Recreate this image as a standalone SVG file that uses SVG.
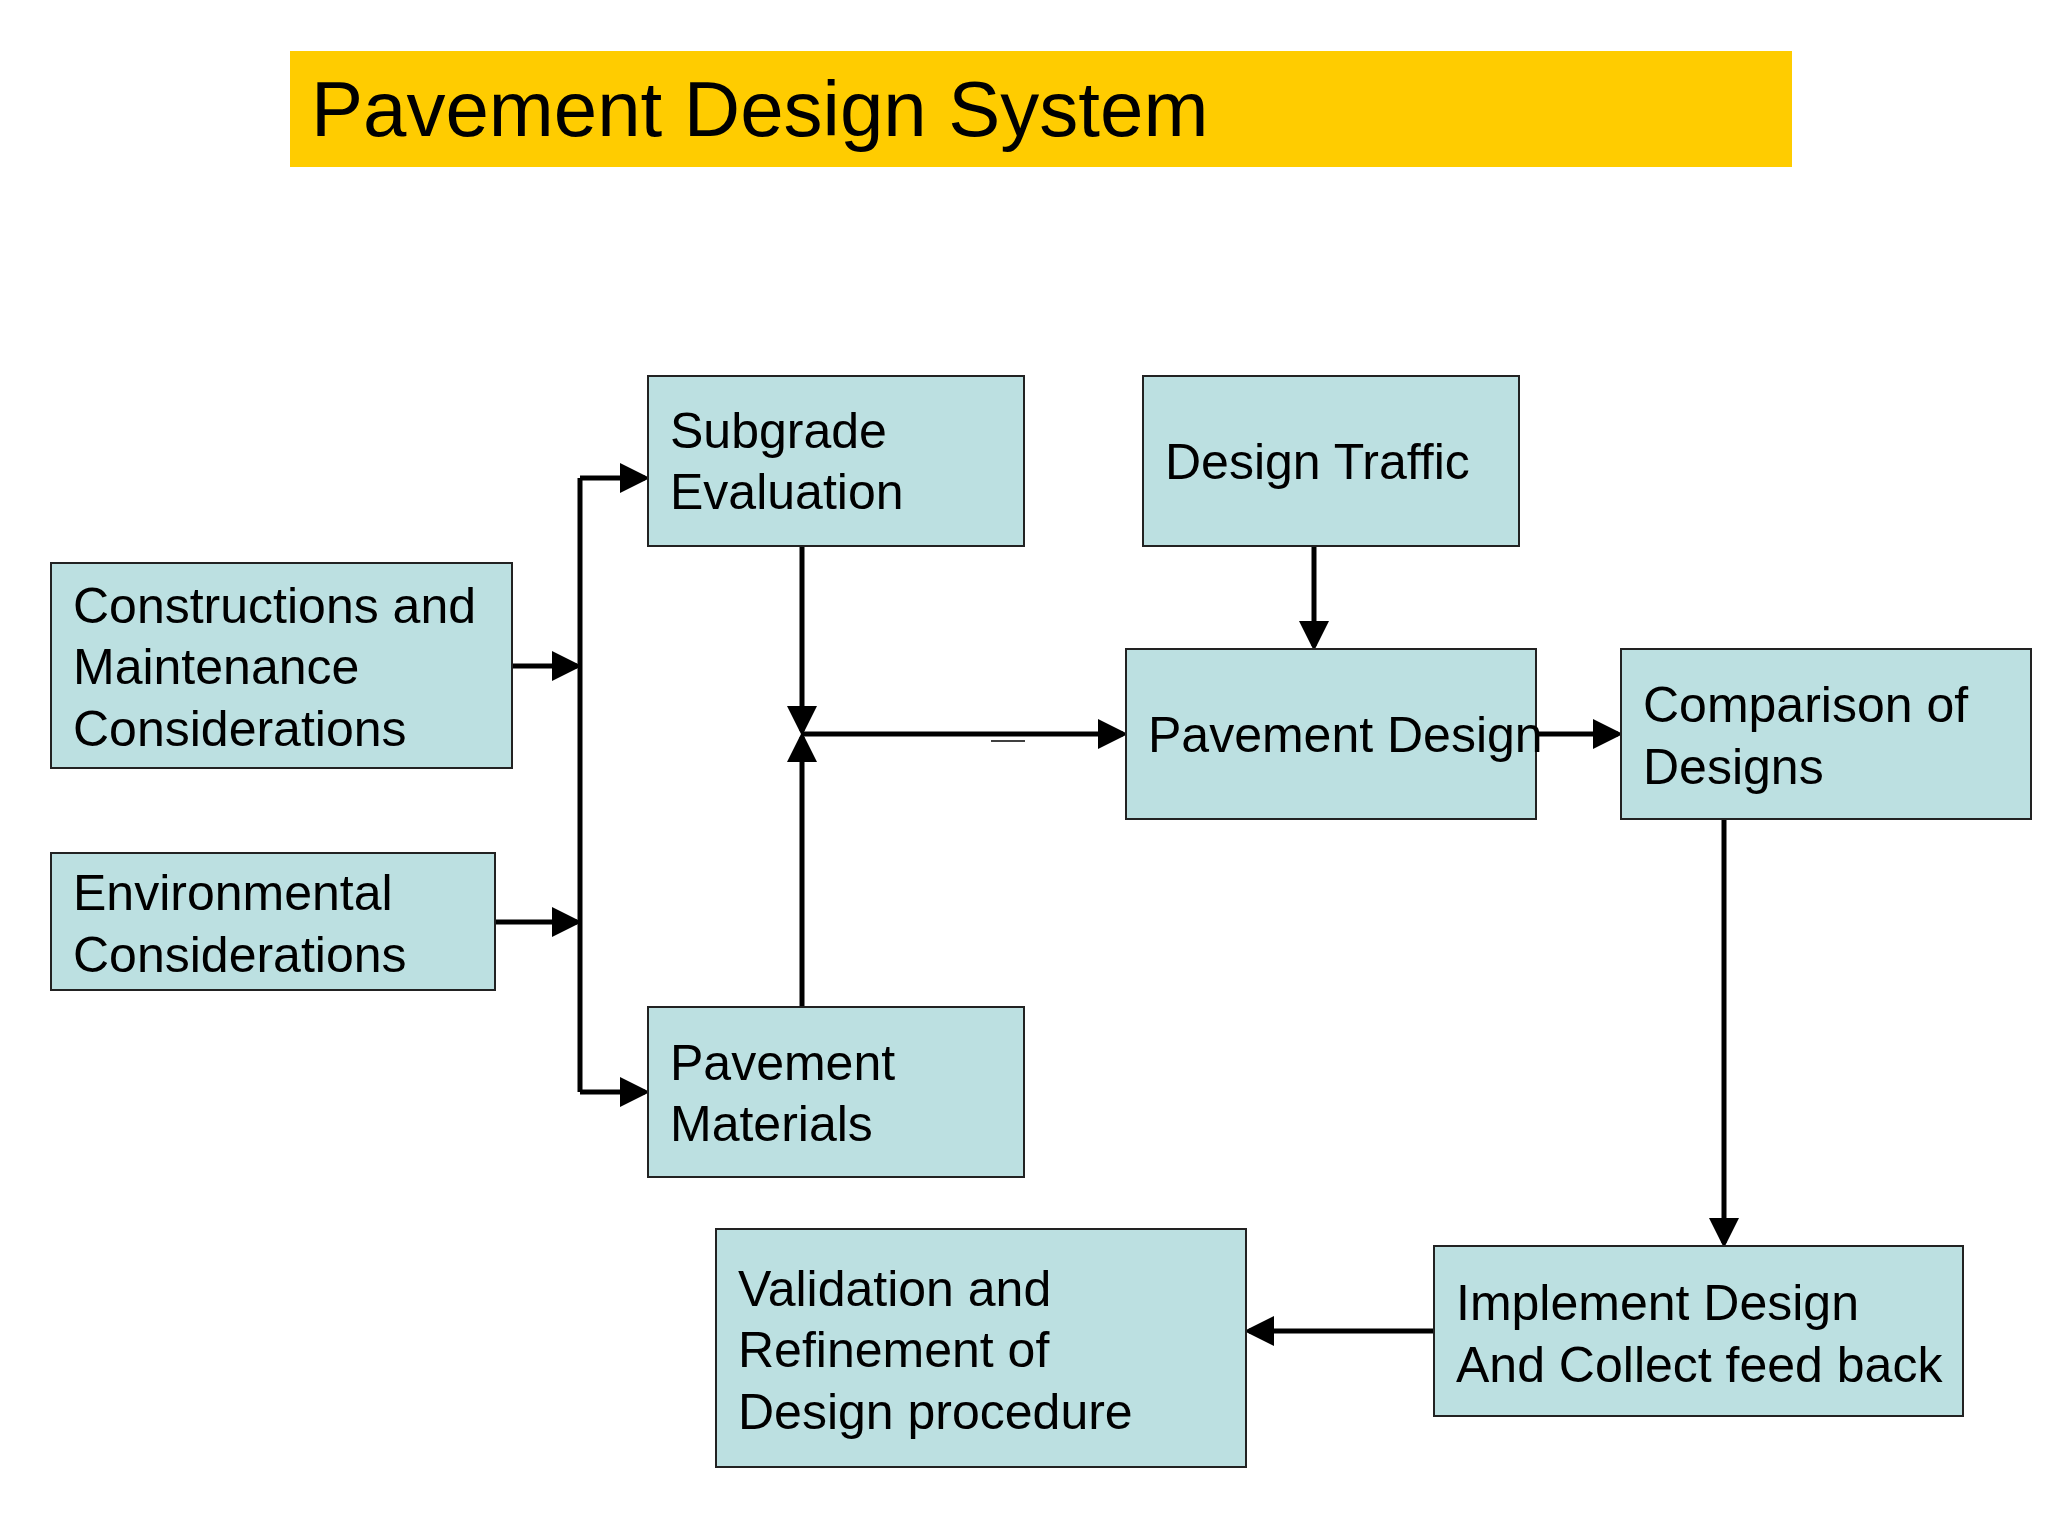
<svg xmlns="http://www.w3.org/2000/svg" width="2048" height="1536" viewBox="0 0 2048 1536">
<style>
.box{fill:#bce0e1;stroke:#222;stroke-width:2}
.t{font-family:"Liberation Sans",Arial,sans-serif;font-size:50px;fill:#000}
.c{stroke:#000;stroke-width:5;fill:none}
</style>
<defs><marker id="a" markerWidth="6" markerHeight="6" refX="5" refY="3" orient="auto" markerUnits="strokeWidth"><path d="M0,0 L6,3 L0,6 z" fill="#000"/></marker></defs>
<rect width="2048" height="1536" fill="#fff"/>
<g id="title"><rect x="290" y="51" width="1502" height="116" fill="#ffcc00"/><text x="311" y="136" font-family="Liberation Sans,Arial,sans-serif" font-size="78">Pavement Design System</text></g>
<g id="connectors">
<path class="c" d="M580,478 V1092"/>
<path class="c" d="M580,478 H645" marker-end="url(#a)"/>
<path class="c" d="M580,1092 H645" marker-end="url(#a)"/>
<path class="c" d="M512,666 H577" marker-end="url(#a)"/>
<path class="c" d="M495,922 H577" marker-end="url(#a)"/>
<path class="c" d="M802,546 V731" marker-end="url(#a)"/>
<path class="c" d="M802,1007 V737" marker-end="url(#a)"/>
<path class="c" d="M802,734 H1123" marker-end="url(#a)"/>
<path d="M991,741 H1025" stroke="#000" stroke-width="1.5"/>
<path class="c" d="M1314,546 V646" marker-end="url(#a)"/>
<path class="c" d="M1536,734 H1618" marker-end="url(#a)"/>
<path class="c" d="M1724,819 V1243" marker-end="url(#a)"/>
<path class="c" d="M1434,1331 H1249" marker-end="url(#a)"/>
</g>
<g id="subgrade"><rect class="box" x="648" y="376" width="376" height="170"/><text class="t" x="670" y="448">Subgrade</text><text class="t" x="670" y="509">Evaluation</text></g>
<g id="traffic"><rect class="box" x="1143" y="376" width="376" height="170"/><text class="t" x="1165" y="479">Design Traffic</text></g>
<g id="construction"><rect class="box" x="51" y="563" width="461" height="205"/><text class="t" x="73" y="623">Constructions and</text><text class="t" x="73" y="684">Maintenance</text><text class="t" x="73" y="746">Considerations</text></g>
<g id="environment"><rect class="box" x="51" y="853" width="444" height="137"/><text class="t" x="73" y="910">Environmental</text><text class="t" x="73" y="972">Considerations</text></g>
<g id="pavdesign"><rect class="box" x="1126" y="649" width="410" height="170"/><text class="t" x="1148" y="752">Pavement Design</text></g>
<g id="comparison"><rect class="box" x="1621" y="649" width="410" height="170"/><text class="t" x="1643" y="722">Comparison of</text><text class="t" x="1643" y="784">Designs</text></g>
<g id="materials"><rect class="box" x="648" y="1007" width="376" height="170"/><text class="t" x="670" y="1080">Pavement</text><text class="t" x="670" y="1141">Materials</text></g>
<g id="validation"><rect class="box" x="716" y="1229" width="530" height="238"/><text class="t" x="738" y="1306">Validation and</text><text class="t" x="738" y="1367">Refinement of</text><text class="t" x="738" y="1429">Design procedure</text></g>
<g id="implement"><rect class="box" x="1434" y="1246" width="529" height="170"/><text class="t" x="1456" y="1320">Implement Design</text><text class="t" x="1456" y="1382">And Collect feed back</text></g>
</svg>
